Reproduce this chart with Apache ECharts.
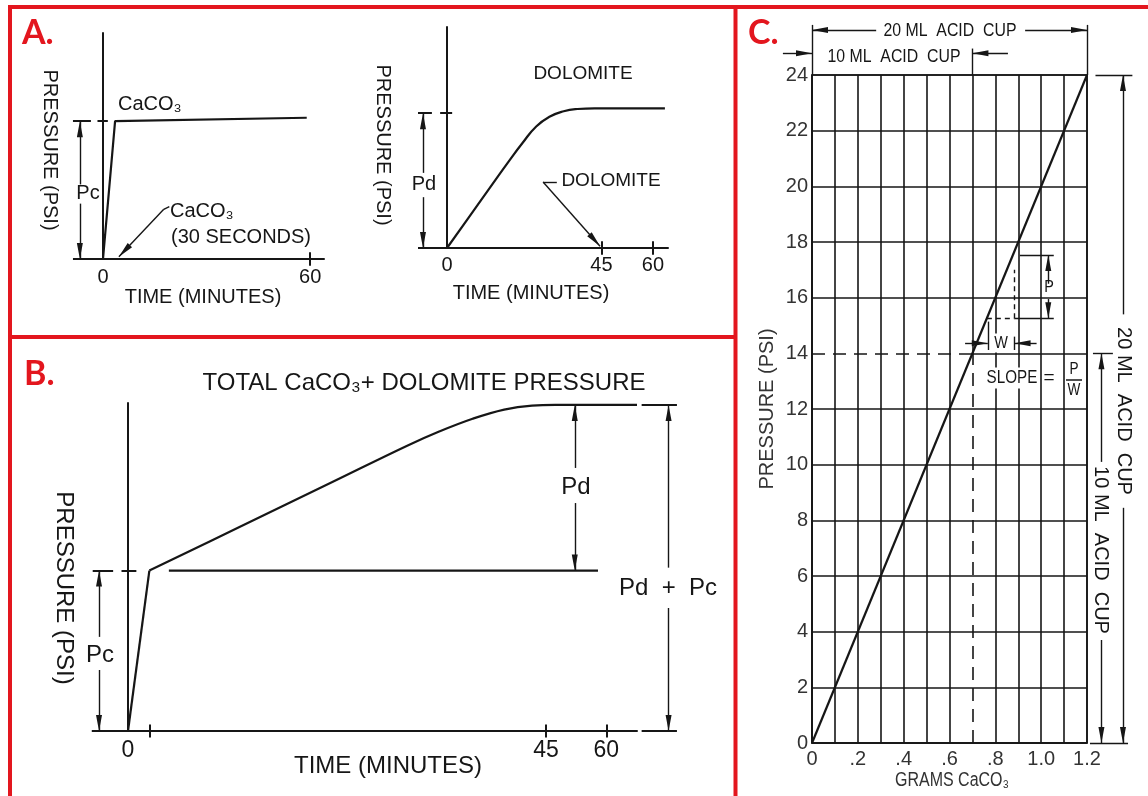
<!DOCTYPE html>
<html>
<head>
<meta charset="utf-8">
<title>Calcimeter pressure curves</title>
<script src="https://cdn.jsdelivr.net/npm/echarts@6/dist/echarts.min.js"></script>
<style>
  html, body { margin: 0; padding: 0; background: #fff; }
  #chart { width: 1148px; height: 796px; }
</style>
</head>
<body>
<div id="chart"></div>
<script>
// A. CaCO3 alone (time in minutes, pressure in drawing units)
var a1Time = [0, 3.5, 59];
var a1Press = [0, 6.1, 6.25];
var a1Labels = [0, 60];
var a1Ticks = [60];

// A. dolomite alone
var a2Time = [0, 6, 12, 18, 22, 26, 30, 34, 38, 43, 63.5];
var a2Press = [0, 1.31, 2.62, 3.92, 4.75, 5.5, 5.95, 6.19, 6.29, 6.32, 6.32];
var a2Labels = [0, 45, 60];
var a2Ticks = [45, 60];

// B. total CaCO3 + dolomite (the sketch squeezes 45..60, so "60" sits at 51.5)
var bTime = [0, 2.3, 12, 22, 30, 33.5, 37.1, 40.5, 43.5, 46, 54.8];
var bPress = [0, 4.89, 6.22, 7.59, 8.69, 9.13, 9.52, 9.8, 9.92, 9.94, 9.94];
var bPcTime = [4.4, 50.6];
var bPcPress = [4.89, 4.89];
var bLabels = [0, 45, 51.5];
var bLabelText = { 0: '0', 45: '45', 51.5: '60' };
var bTicks = [2.3, 45, 51.5];

// C. calibration line
var cGrams = [0, 1.2];
var cPsi = [0, 24];

var INK = '#161616';
var RED = '#e3161e';
var SANS = '"Liberation Sans", Arial, sans-serif';
// filled arrow head with its tip at the symbol centre
var ARROW = 'path://M16,16 L19,32 L13,32 Z M0,0 L0.01,0 L0,0.01 Z M32,0 L31.99,0 L32,0.01 Z';

function zip(xs, ys) {
  return xs.map(function (x, i) { return [x, ys[i]]; });
}

function seg(from, to, o) {
  o = o || {};
  var d = { coords: [from, to], symbol: [o.start ? ARROW : 'none', o.end ? ARROW : 'none'] };
  var ls = {};
  if (o.dash) ls.type = o.dash;
  if (o.w) ls.width = o.w;
  d.lineStyle = ls;
  return d;
}

function crossTicks(vals, h) {
  return vals.map(function (v) { return seg([v, -h], [v, h], { w: 2 }); });
}

// annotation lines, in each panel's own axis units
var a1Ann = crossTicks(a1Ticks, 0.3).concat([
  seg([-8.7, 6.1], [-3.5, 6.1], { w: 2 }),
  seg([-1.6, 6.1], [1.4, 6.1], { w: 2 }),
  seg([-8.7, 0], [0, 0], { w: 2 }),
  seg([-6.7, 3.3], [-6.7, 6.1], { end: 1 }),
  seg([-6.7, 2.45], [-6.7, 0], { end: 1 }),
  seg([19.2, 2.32], [17.6, 2.2]),
  seg([17.6, 2.2], [4.6, 0.1], { end: 1 })
]);

var a2Ann = crossTicks(a2Ticks, 0.3).concat([
  seg([-8.45, 6.1], [-4.4, 6.1], { w: 2 }),
  seg([-2, 6.1], [1.5, 6.1], { w: 2 }),
  seg([-8.45, 0], [0, 0], { w: 2 }),
  seg([-7, 3.4], [-7, 6.1], { end: 1 }),
  seg([-7, 2.3], [-7, 0], { end: 1 }),
  seg([32, 2.99], [28, 2.99]),
  seg([28, 2.99], [44.6, 0.08], { end: 1 })
]);

var bAnn = crossTicks(bTicks, 0.2).concat([
  seg([-3.8, 4.89], [-1.6, 4.89], { w: 2 }),
  seg([-0.7, 4.89], [0.9, 4.89], { w: 2 }),
  seg([-3.9, 0], [0, 0], { w: 2 }),
  seg([-3.12, 2.87], [-3.12, 4.89], { end: 1 }),
  seg([-3.12, 1.86], [-3.12, 0], { end: 1 }),
  seg([55.3, 0], [59.1, 0], { w: 2 }),
  seg([55.3, 9.94], [59.1, 9.94], { w: 2 }),
  seg([48.1, 8.02], [48.1, 9.94], { end: 1 }),
  seg([48.1, 6.95], [48.1, 4.89], { end: 1 }),
  seg([58.2, 4.98], [58.2, 9.94], { end: 1 }),
  seg([58.2, 3.75], [58.2, 0], { end: 1 })
]);

var cAnn = [
  // dimension lines above the grid
  seg([0, 24], [0, 25.8]), seg([1.2, 24], [1.2, 25.8]), seg([0.7, 24], [0.7, 24.95]),
  seg([0.28, 25.62], [0, 25.62], { end: 1 }), seg([0.93, 25.62], [1.2, 25.62], { end: 1 }),
  seg([-0.127, 24.78], [0, 24.78], { end: 1 }), seg([0.855, 24.78], [0.7, 24.78], { end: 1 }),
  // right hand side
  seg([1.237, 24], [1.398, 24]), seg([1.226, 14], [1.313, 14]), seg([1.213, 0], [1.379, 0]),
  seg([1.357, 15.4], [1.357, 24], { end: 1 }), seg([1.357, 8.45], [1.357, 0], { end: 1 }),
  seg([1.263, 10.1], [1.263, 14], { end: 1 }), seg([1.263, 3.7], [1.263, 0], { end: 1 }),
  // 10 ml cup boundary
  seg([0, 14], [0.7, 14], { dash: [13, 8], w: 1.6 }), seg([0.7, 14], [1.2, 14], { w: 1.6 }),
  seg([0.7, 0], [0.7, 14], { dash: [13, 8], w: 1.6 }), seg([0.7, 14], [0.7, 24], { w: 1.6 }),
  // slope construction
  seg([0.763, 15.26], [0.884, 15.26], { dash: [5, 4] }), seg([0.884, 15.26], [1.055, 15.26]),
  seg([0.884, 15.26], [0.884, 17.0], { dash: [5, 4] }),
  seg([0.907, 17.53], [1.055, 17.53]),
  seg([1.031, 16.5], [1.031, 17.53], { end: 1 }), seg([1.031, 15.95], [1.031, 15.26], { end: 1 }),
  seg([0.767, 15.14], [0.767, 14.12]), seg([0.884, 14.6], [0.884, 14.12]),
  seg([0.668, 14.36], [0.767, 14.36], { end: 1 }), seg([0.98, 14.36], [0.884, 14.36], { end: 1 })
];

function annot(i, data) {
  return {
    type: 'lines', coordinateSystem: 'cartesian2d', xAxisIndex: i, yAxisIndex: i,
    clip: false, silent: true, symbolSize: 32, z: 4,
    lineStyle: { color: INK, width: 1.4, opacity: 1, curveness: 0 },
    data: data
  };
}

function curve(i, data, smooth) {
  return {
    type: 'line', xAxisIndex: i, yAxisIndex: i, data: data,
    showSymbol: false, symbol: 'none', smooth: smooth || false,
    clip: false, silent: true, z: 3,
    lineStyle: { color: INK, width: 2.2 }
  };
}

function sketchX(i, max, labels, fmt, margin, size) {
  return {
    gridIndex: i, type: 'value', min: 0, max: max,
    axisLine: { show: true, onZero: false, lineStyle: { color: INK, width: 2 } },
    axisTick: { show: false }, splitLine: { show: false },
    axisLabel: {
      show: true, customValues: labels, margin: margin, color: INK,
      fontSize: size, fontFamily: SANS, formatter: fmt
    }
  };
}

function sketchY(i) {
  return {
    gridIndex: i, type: 'value', min: 0, max: 10,
    axisLine: { show: true, onZero: false, lineStyle: { color: INK, width: 2 } },
    axisTick: { show: false }, splitLine: { show: false }, axisLabel: { show: false }
  };
}

// grid lines of panel C: the 0.7 g and 14 psi lines are drawn dashed/solid separately
var cColX = [], cColY = [];
for (var k = 0; k < 13; k++) {
  cColX.push(k === 7 ? 'rgba(0,0,0,0)' : INK);
  cColY.push(k === 7 ? 'rgba(0,0,0,0)' : INK);
}

function T(x, y, s, o) {
  o = o || {};
  var st = {
    text: s, fill: o.fill || INK, fontSize: o.size || 20, fontFamily: o.font || SANS,
    fontWeight: o.weight || 'normal', align: o.align || 'center', verticalAlign: 'middle'
  };
  if (o.bg) { st.backgroundColor = '#fff'; st.padding = [1, 2]; }
  return {
    type: 'text', x: x, y: y, rotation: o.rot || 0, scaleX: o.sx || 1,
    z: 10, silent: true, style: st
  };
}

function L(x1, y1, x2, y2, color, w) {
  return {
    type: 'line', z: 10, silent: true,
    shape: { x1: x1, y1: y1, x2: x2, y2: y2 },
    style: { stroke: color, lineWidth: w }
  };
}

var DOWN = -Math.PI / 2;
var LETTER = { size: 34, font: 'Lato, sans-serif', weight: 'bold', fill: RED, align: 'left' };
var graphics = [
  // red panel frames
  L(8, 7, 1148, 7, RED, 4), L(10, 5, 10, 796, RED, 4),
  L(10, 337, 735.5, 337, RED, 4), L(735.5, 5, 735.5, 796, RED, 4),
  T(22, 33, 'A.', LETTER),
  T(24, 374, 'B.', LETTER),
  T(748, 33, 'C.', LETTER),

  // A, left
  T(50, 150, 'PRESSURE (PSI)', { rot: DOWN }),
  T(88, 193, 'Pc'),
  T(118, 104, 'CaCO₃', { align: 'left' }),
  T(170, 211, 'CaCO₃', { align: 'left' }),
  T(171, 237, '(30 SECONDS)', { align: 'left' }),
  T(203, 297, 'TIME (MINUTES)'),
  // A, right
  T(383, 145, 'PRESSURE (PSI)', { rot: DOWN }),
  T(424, 184, 'Pd'),
  T(583, 74, 'DOLOMITE', { size: 19 }),
  T(611, 181, 'DOLOMITE', { size: 19 }),
  T(531, 293, 'TIME (MINUTES)'),

  // B
  T(424, 383, 'TOTAL CaCO₃+ DOLOMITE PRESSURE', { size: 24 }),
  T(64, 588, 'PRESSURE (PSI)', { rot: DOWN, size: 24 }),
  T(100, 655, 'Pc', { size: 24 }),
  T(576, 487, 'Pd', { size: 24 }),
  T(668, 588, 'Pd  +  Pc', { size: 24 }),
  T(388, 766, 'TIME (MINUTES)', { size: 24 }),

  // C
  T(950, 31, '20 ML  ACID  CUP', { size: 18, sx: 0.88 }),
  T(894, 57, '10 ML  ACID  CUP', { size: 18, sx: 0.88 }),
  T(1124, 411, '20 ML  ACID  CUP', { rot: DOWN, size: 20 }),
  T(1101, 550, '10 ML  ACID  CUP', { rot: DOWN, size: 20 }),
  T(1001, 343, 'W', { size: 17, sx: 0.85, bg: true }),
  T(1049, 287, 'P', { size: 17, sx: 0.85 }),
  T(985, 378, 'SLOPE', { align: 'left', size: 19, sx: 0.8, bg: true }),
  T(1049, 378, '=', { size: 19 }),
  T(1074, 370, 'P', { size: 16, sx: 0.85 }),
  L(1066, 380, 1082, 380, INK, 1.5),
  T(1074, 391, 'W', { size: 16, sx: 0.85 }),
  T(952, 780, 'GRAMS CaCO₃', { size: 20, sx: 0.8, fill: '#333' })
];

var chart = echarts.init(document.getElementById('chart'));
chart.setOption({
  backgroundColor: '#fff',
  animation: false,
  grid: [
    { left: 103, top: 33, width: 221, height: 226 },
    { left: 447, top: 27, width: 221, height: 221 },
    { left: 128, top: 403, width: 509, height: 328 },
    { left: 812, top: 75, width: 275, height: 668, show: true, borderColor: INK, borderWidth: 1.6 }
  ],
  xAxis: [
    sketchX(0, 64, a1Labels, null, 8, 20),
    sketchX(1, 64.4, a2Labels, null, 7, 20),
    sketchX(2, 54.8, bLabels, function (v) { return bLabelText[v]; }, 8, 23),
    {
      gridIndex: 3, type: 'value', min: 0, max: 1.2, interval: 0.1,
      axisLine: { show: true, onZero: false, lineStyle: { color: INK, width: 1.6 } },
      axisTick: { show: false },
      splitLine: { show: true, lineStyle: { color: cColX, width: 1.6 } },
      axisLabel: {
        margin: 6, color: '#333', fontSize: 20, fontFamily: SANS,
        formatter: function (v) {
          var k = Math.round(v * 10);
          if (k % 2) return '';
          if (k === 0) return '0';
          return k < 10 ? '.' + k : (k / 10).toFixed(1);
        }
      }
    }
  ],
  yAxis: [
    sketchY(0), sketchY(1), sketchY(2),
    {
      gridIndex: 3, type: 'value', min: 0, max: 24, interval: 2,
      name: 'PRESSURE (PSI)', nameLocation: 'middle', nameGap: 35,
      nameTextStyle: { color: '#333', fontSize: 20, fontFamily: SANS },
      axisLine: { show: true, onZero: false, lineStyle: { color: INK, width: 1.6 } },
      axisTick: { show: false },
      splitLine: { show: true, lineStyle: { color: cColY, width: 1.6 } },
      axisLabel: { margin: 4, color: '#333', fontSize: 20, fontFamily: SANS }
    }
  ],
  series: [
    curve(0, zip(a1Time, a1Press)),
    curve(1, zip(a2Time, a2Press), 0.5),
    curve(2, zip(bTime, bPress).slice(0, 2)),
    curve(2, zip(bTime, bPress).slice(1), 0.4),
    curve(2, zip(bPcTime, bPcPress)),
    curve(3, zip(cGrams, cPsi)),
    annot(0, a1Ann),
    annot(1, a2Ann),
    annot(2, bAnn),
    annot(3, cAnn)
  ],
  graphic: graphics
});
</script>
</body>
</html>
